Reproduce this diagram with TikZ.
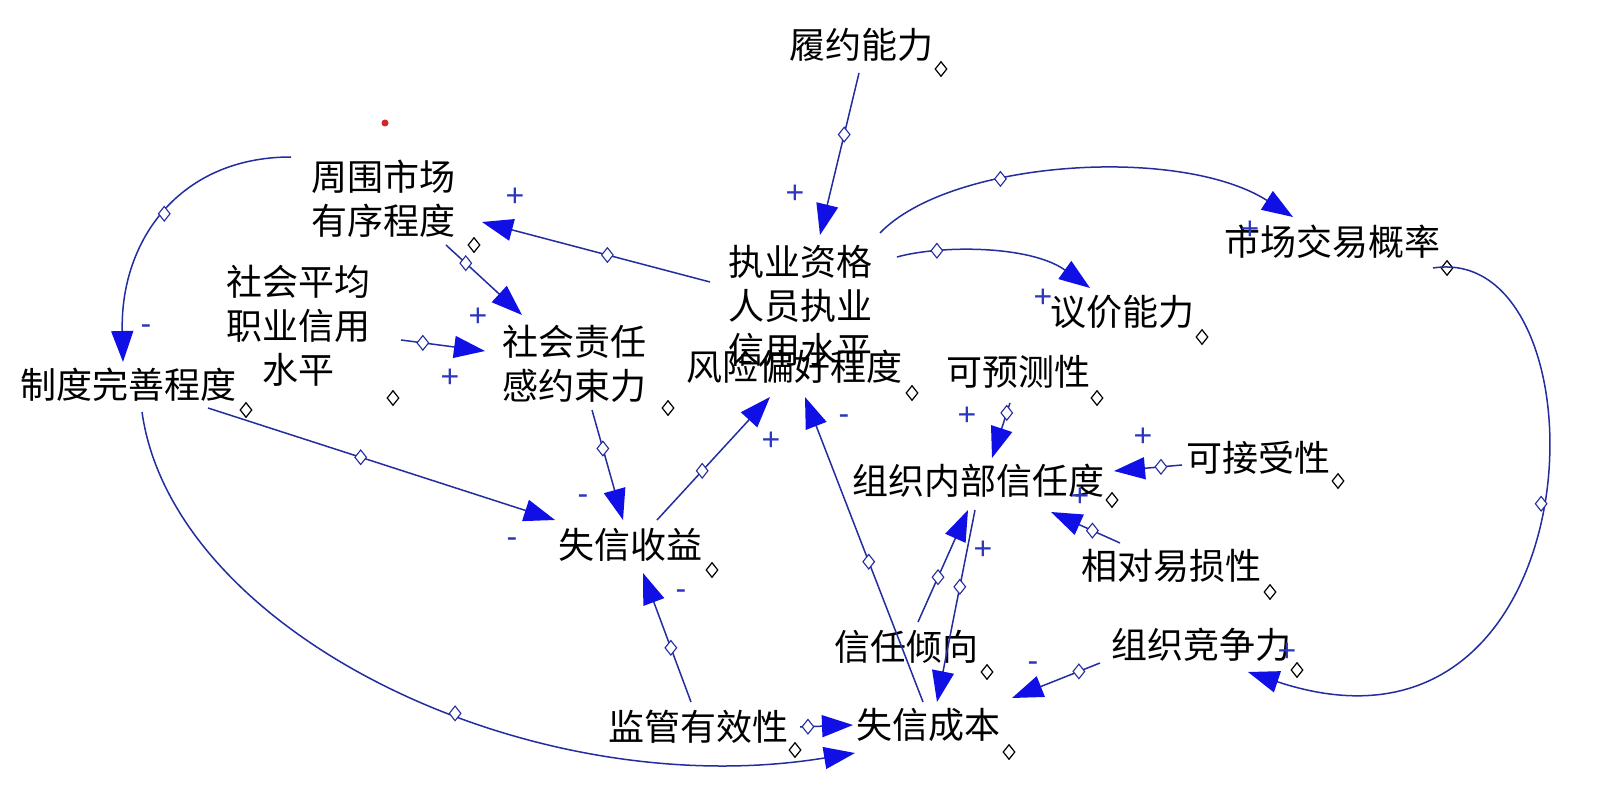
\documentclass[tikz,border=0pt]{standalone}
\usepackage{fontspec}
\newfontfamily\cjk{Noto Sans CJK SC}
\newfontfamily\signfont{Liberation Sans}
\usetikzlibrary{arrows.meta,shapes.geometric,calc}
\definecolor{lineblue}{RGB}{35,45,160}
\definecolor{arrowblue}{RGB}{15,15,230}
\definecolor{signblue}{RGB}{45,55,190}
\definecolor{dotred}{RGB}{210,40,40}
\begin{document}
\begin{tikzpicture}[x=1pt,y=-1pt,
  var/.style={font=\cjk\fontsize{36}{44}\selectfont, align=center, inner sep=0pt, text=black},
  lnk/.style={draw=lineblue, line width=1.5pt, -{Triangle[length=31pt,width=22pt,color=arrowblue]}},
  ldiam/.style={diamond, draw=lineblue, fill=white, line width=1.1pt, inner sep=0pt, minimum width=12pt, minimum height=15pt},
  vdiam/.style={diamond, draw=black, fill=white, line width=1.2pt, inner sep=0pt, minimum width=12pt, minimum height=15pt},
  sgn/.style={font=\signfont\fontsize{32}{32}\selectfont, text=signblue, inner sep=0pt}]
\useasboundingbox (0,0) rectangle (1600,802);
\fill[white] (0,0) rectangle (1600,802);
\fill[dotred] (385,123) circle (3.5pt);

% variables
\node[var] (lv) at (861,45) {履约能力};
\node[var] (zw) at (383,199) {周围市场\\有序程度};
\node[var] (sh) at (298,326) {社会平均\\职业信用\\水平};
\node[var] (zr) at (574,364) {社会责任\\感约束力};
\node[var] (zd) at (128,385) {制度完善程度};
\node[var] (zy) at (800,306) {执业资格\\人员执业\\信用水平};
\node[var] (fx) at (794,367) {风险偏好程度};
\node[var] (yj) at (1122,312) {议价能力};
\node[var] (sc) at (1332,242) {市场交易概率};
\node[var] (ky) at (1018,372) {可预测性};
\node[var] (zz) at (978,481) {组织内部信任度};
\node[var] (kj) at (1258,458) {可接受性};
\node[var] (xd) at (1171,566) {相对易损性};
\node[var] (sy) at (630,545) {失信收益};
\node[var] (xq) at (906,647) {信任倾向};
\node[var] (zj) at (1201,645) {组织竞争力};
\node[var] (jg) at (698,727) {监管有效性};
\node[var] (cb) at (928,725) {失信成本};

% variable markers
\node[vdiam] (v1) at (941,69) {};
\node[vdiam] (v2) at (474,245) {};
\node[vdiam] (v3) at (393,398) {};
\node[vdiam] (v4) at (668,408) {};
\node[vdiam] (v5) at (246,410) {};
\node[vdiam] (v6) at (912,393) {};
\node[vdiam] (v7) at (1202,337) {};
\node[vdiam] (v8) at (1447,268) {};
\node[vdiam] (v9) at (1097,398) {};
\node[vdiam] (v10) at (1112,500) {};
\node[vdiam] (v11) at (1338,481) {};
\node[vdiam] (v12) at (1270,592) {};
\node[vdiam] (v13) at (712,570) {};
\node[vdiam] (v14) at (987,672) {};
\node[vdiam] (v15) at (1297,670) {};
\node[vdiam] (v16) at (795,750) {};
\node[vdiam] (v17) at (1009,752) {};

% links
\draw[lnk] ($(lv)+(-2,28)$) -- node[ldiam,pos=.38] (l1) {} ($(zy)+(20,-71)$);
\draw[lnk] ($(zy)+(-90,-24)$) -- node[ldiam,pos=.45] (l2) {} ($(zw)+(99,23)$);
\draw[lnk] ($(zw)+(-92,-42)$) .. controls +(-111,0) and +(-3,-122) .. node[ldiam,pos=.5] (l3) {} ($(zd)+(-5,-23)$);
\draw[lnk] ($(zw)+(63,46)$) -- node[ldiam,pos=.26] (l4) {} ($(zr)+(-52,-49)$);
\draw[lnk] ($(sh)+(103,14)$) -- node[ldiam,pos=.26] (l5) {} ($(zr)+(-89,-13)$);
\draw[lnk] ($(zy)+(80,-73)$) .. controls +(70,-73) and +(-113,-72) .. node[ldiam,pos=.35] (l6) {} ($(sc)+(-39,-25)$);
\draw[lnk] ($(zy)+(97,-49)$) .. controls +(43,-12) and +(-60,-43) .. node[ldiam,pos=.25] (l7) {} ($(yj)+(-32,-24)$);
\draw[lnk] ($(sc)+(101,26)$) .. controls +(180,-28) and +(355,118) .. node[ldiam,pos=.5] (l8) {} ($(zj)+(47,27)$);
\draw[lnk] ($(zd)+(80,23)$) -- node[ldiam,pos=.44] (l9) {} ($(sy)+(-75,-25)$);
\draw[lnk] ($(zr)+(18,46)$) -- node[ldiam,pos=.35] (l10) {} ($(sy)+(-7,-25)$);
\draw[lnk] ($(sy)+(27,-25)$) -- node[ldiam,pos=.4] (l11) {} ($(fx)+(-24,30)$);
\draw[lnk] ($(jg)+(-7,-25)$) -- node[ldiam,pos=.42] (l12) {} ($(sy)+(13,28)$);
\draw[lnk] ($(jg)+(102,0)$) -- node[ldiam,pos=.15] (l13) {} ($(cb)+(-75,0)$);
\draw[lnk] ($(zd)+(14,27)$) .. controls +(31,221) and +(-325,53) .. node[ldiam,pos=.58] (l14) {} ($(cb)+(-73,28)$);
\draw[lnk] ($(cb)+(-5,-23)$) -- node[ldiam,pos=.46] (l15) {} ($(fx)+(11,30)$);
\draw[lnk] ($(xq)+(12,-25)$) -- node[ldiam,pos=.4] (l16) {} ($(zz)+(-10,29)$);
\draw[lnk] ($(zz)+(-3,29)$) -- node[ldiam,pos=.4] (l17) {} ($(cb)+(9,-23)$);
\draw[lnk] ($(ky)+(-8,31)$) -- node[ldiam,pos=.18] (l18) {} ($(zz)+(14,-23)$);
\draw[lnk] ($(kj)+(-76,7)$) -- node[ldiam,pos=.31] (l19) {} ($(zz)+(136,-10)$);
\draw[lnk] ($(xd)+(-51,-23)$) -- node[ldiam,pos=.4] (l20) {} ($(zz)+(73,31)$);
\draw[lnk] ($(zj)+(-101,18)$) -- node[ldiam,pos=.24] (l21) {} ($(cb)+(84,-27)$);

% polarity signs
\node[sgn] (s1) at (795,194) {+};
\node[sgn] (s2) at (515,197) {+};
\node[sgn] (s3) at (146,330) {-};
\node[sgn] (s4) at (478,317) {+};
\node[sgn] (s5) at (450,378) {+};
\node[sgn] (s6) at (1250,230) {+};
\node[sgn] (s7) at (1043,298) {+};
\node[sgn] (s8) at (1287,652) {+};
\node[sgn] (s9) at (512,543) {-};
\node[sgn] (s10) at (583,500) {-};
\node[sgn] (s11) at (771,441) {+};
\node[sgn] (s12) at (681,595) {-};
\node[sgn] (s13) at (844,420) {-};
\node[sgn] (s14) at (983,550) {+};
\node[sgn] (s15) at (967,416) {+};
\node[sgn] (s16) at (1143,437) {+};
\node[sgn] (s17) at (1080,497) {+};
\node[sgn] (s18) at (1033,667) {-};
\end{tikzpicture}
\end{document}
